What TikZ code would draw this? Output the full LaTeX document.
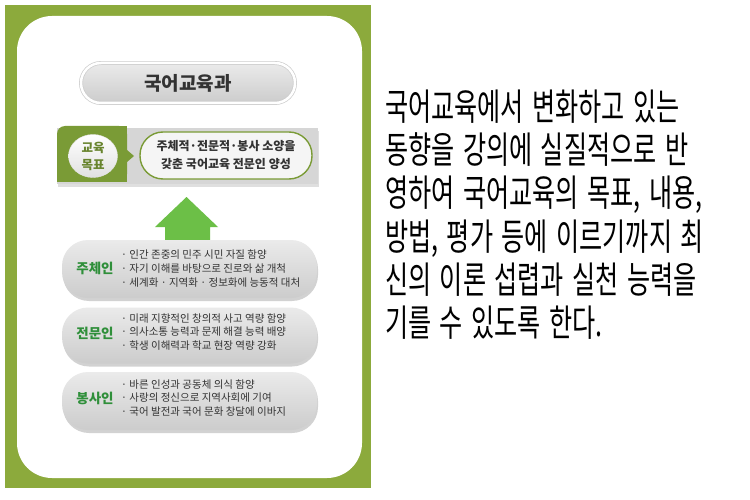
\documentclass[tikz,border=0pt]{standalone}
\usepackage{fontspec}
\setmainfont{Noto Sans CJK KR}
\newfontfamily\rtext[FakeStretch=0.68,WordSpace=1.5]{Noto Sans CJK KR}
\usetikzlibrary{shadows,shapes.geometric}
\definecolor{frame}{HTML}{8CAA3C}
\definecolor{tabgreen}{HTML}{7A9B36}
\definecolor{arrowgreen}{HTML}{6CBF47}
\definecolor{labelgreen}{HTML}{2F8F3A}
\definecolor{txtgray}{HTML}{333333}
\tikzset{
  pillshade/.style={top color=white!92!black, bottom color=white!80!black},
  titlepill/.style={pillshade, draw=white!80!black, double=white, double distance=2.5pt, line width=0.7pt,
    rounded corners=20pt, minimum width=214pt, minimum height=40pt, inner sep=0pt,
    font=\bfseries\fontsize{19}{22}\selectfont, text=txtgray},
  goalpill/.style={fill=white!96!black, draw=tabgreen, line width=1.4pt, rounded corners=23pt,
    minimum width=172pt, minimum height=47pt, inner sep=0pt, align=center,
    font=\bfseries\fontsize{12}{18}\selectfont, text=txtgray},
  itembox/.style={pillshade, rounded corners=26pt, minimum width=255pt, inner sep=0pt,
    drop shadow={opacity=0.35, shadow xshift=1pt, shadow yshift=-3pt}},
  boxlabel/.style={font=\bfseries\fontsize{13.5}{16}\selectfont, text=labelgreen, inner sep=0pt},
  items/.style={anchor=west, align=left, inner sep=0pt, text=txtgray,
    font=\fontsize{10.5}{13.6}\selectfont},
  rline/.style={anchor=base west, inner sep=0pt, font=\rtext\fontsize{37}{43}\selectfont, text=black}
}
\begin{document}
\begin{tikzpicture}[x=1pt,y=-1pt]
\useasboundingbox (0,0) rectangle (750,500);
\fill[white] (0,0) rectangle (750,500);
% frame
\fill[frame] (5,5) rectangle (371,488);
\fill[white, rounded corners=35pt] (17,16) rectangle (362,478);
% title
\node[titlepill] (title) at (188,83) {국어교육과};
% goal band
\node[fill=white!84!black, minimum width=261pt, minimum height=56pt, inner sep=0pt,
  drop shadow={opacity=0.25, shadow xshift=1pt, shadow yshift=-3pt}] (goalband) at (187.5,156) {};
\fill[tabgreen, rounded corners=8pt] (57,126) rectangle (127,182);
\fill[tabgreen] (90,126) rectangle (127,182);
\fill[tabgreen] (57,145) rectangle (127,182);
\fill[tabgreen] (127,150) -- (134,156) -- (127,162) -- cycle;
\node[ellipse, minimum width=49pt, minimum height=43pt, inner sep=0pt, align=center,
  top color=white, bottom color=white!88!black, draw=white!90!black,
  font=\bfseries\fontsize{12.5}{17}\selectfont, text=tabgreen!85!black] (goalcirc) at (93,156) {교육\\목표};
\node[goalpill] (goaltext) at (226,155.5) {주체적·전문적·봉사 소양을\\갖춘 국어교육 전문인 양성};
% arrow
\fill[arrowgreen] (155,227) -- (186.5,197) -- (218,227) -- (210,227) -- (210,242) -- (165,242) -- (165,227) -- cycle;
% boxes
\node[itembox, minimum height=58pt] (box1) at (189.5,269) {};
\node[itembox, minimum height=56pt] (box2) at (189.5,335.5) {};
\node[itembox, minimum height=58pt] (box3) at (189.5,401) {};
\node[boxlabel] (lab1) at (95,268) {주체인};
\node[boxlabel] (lab2) at (95,333) {전문인};
\node[boxlabel] (lab3) at (95,398) {봉사인};
\node[items] (it1) at (121,268.5) {· 인간 존중의 민주 시민 자질 함양\\· 자기 이해를 바탕으로 진로와 삶 개척\\· 세계화 · 지역화 · 정보화에 능동적 대처};
\node[items] (it2) at (121,332) {· 미래 지향적인 창의적 사고 역량 함양\\· 의사소통 능력과 문제 해결 능력 배양\\· 학생 이해력과 학교 현장 역량 강화};
\node[items] (it3) at (121,398) {· 바른 인성과 공동체 의식 함양\\· 사랑의 정신으로 지역사회에 기여\\· 국어 발전과 국어 문화 창달에 이바지};
% right text
\node[rline] (r1) at (385,121) {국어교육에서 변화하고 있는};
\node[rline] (r2) at (385,164) {동향을 강의에 실질적으로 반};
\node[rline] (r3) at (385,207) {영하여 국어교육의 목표, 내용,};
\node[rline] (r4) at (385,250) {방법, 평가 등에 이르기까지 최};
\node[rline] (r5) at (385,293) {신의 이론 섭렵과 실천 능력을};
\node[rline] (r6) at (385,336) {기를 수 있도록 한다.};
\end{tikzpicture}
\end{document}
